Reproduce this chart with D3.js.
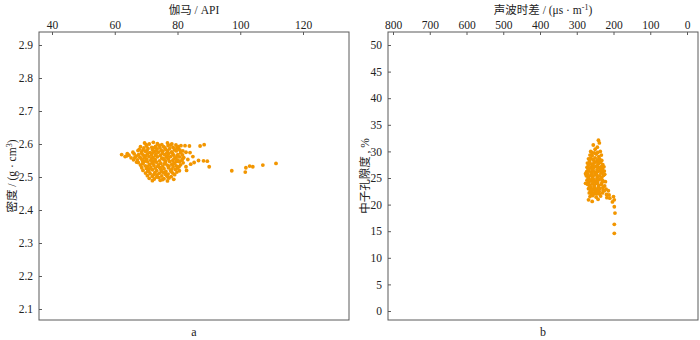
<!DOCTYPE html>
<html><head><meta charset="utf-8">
<script src="https://cdn.jsdelivr.net/npm/d3@7"></script>
<style>body{margin:0;background:#fff}svg{display:block}</style>
</head><body>
<svg id="c" width="700" height="340"></svg>
<script>
// ---- data ----
const gammaTicks = [40, 60, 80, 100, 120];
const densityTicks = [2.1, 2.2, 2.3, 2.4, 2.5, 2.6, 2.7, 2.8, 2.9];
const sonicTicks = [800, 700, 600, 500, 400, 300, 200, 100, 0];
const porosityTicks = [0, 5, 10, 15, 20, 25, 30, 35, 40, 45, 50];
const panelLabels = ["a", "b"];

// panel a: [gamma API, density g/cm3]
const gammaDensity = [
 [62.2,2.568],[63.3,2.562],[64.5,2.566],[65.2,2.558],[64.0,2.571],[66.0,2.552],[66.8,2.563],[65.8,2.575],[67.0,2.545],[67.4,2.580],
 [69.5,2.603],[71.0,2.600],[72.3,2.605],[73.6,2.601],[75.0,2.598],[76.8,2.603],[78.2,2.600],[79.5,2.597],
 [68.2,2.592],[70.2,2.594],[71.8,2.590],[73.0,2.593],[74.4,2.589],[75.6,2.592],[77.0,2.595],[78.6,2.590],[80.3,2.592],[81.1,2.595],
 [67.8,2.584],[69.0,2.582],[70.6,2.586],[72.0,2.583],[73.5,2.585],[74.8,2.581],[76.2,2.584],[77.5,2.586],[79.0,2.582],[80.4,2.585],
 [68.5,2.576],[69.8,2.578],[71.2,2.574],[72.6,2.577],[73.9,2.575],[75.3,2.578],[76.6,2.573],[78.1,2.576],[79.6,2.579],[81.7,2.579],[82.7,2.575],
 [67.6,2.568],[69.1,2.566],[70.4,2.570],[71.7,2.567],[73.1,2.569],[74.5,2.565],[75.9,2.568],[77.2,2.571],[78.8,2.566],[80.1,2.568],[81.6,2.567],
 [68.0,2.560],[69.5,2.558],[70.9,2.562],[72.2,2.559],[73.6,2.561],[75.0,2.557],[76.4,2.560],[77.8,2.562],[79.3,2.558],[80.7,2.561],[82.0,2.559],
 [67.2,2.552],[68.8,2.550],[70.2,2.554],[71.5,2.551],[72.9,2.553],[74.3,2.549],[75.7,2.552],[77.1,2.555],[78.5,2.550],[80.0,2.552],[81.4,2.551],
 [67.5,2.544],[69.0,2.542],[70.5,2.546],[71.9,2.543],[73.3,2.545],[74.7,2.541],[76.1,2.544],[77.5,2.547],[79.0,2.542],[80.6,2.547],[81.8,2.543],
 [68.2,2.536],[69.7,2.534],[71.1,2.538],[72.5,2.535],[73.9,2.537],[75.3,2.533],[76.7,2.536],[78.2,2.539],[79.6,2.534],[81.0,2.537],
 [68.6,2.528],[70.1,2.526],[71.5,2.530],[72.9,2.527],[74.3,2.529],[75.7,2.525],[77.1,2.528],[78.6,2.531],[80.0,2.527],
 [69.0,2.520],[70.5,2.518],[72.0,2.522],[73.4,2.519],[74.8,2.521],[76.3,2.517],[77.8,2.520],[79.3,2.523],[80.6,2.519],
 [69.8,2.512],[71.3,2.510],[72.8,2.514],[74.2,2.511],[75.6,2.513],[77.0,2.509],[78.5,2.512],[79.8,2.515],
 [70.4,2.504],[72.0,2.502],[73.5,2.506],[75.0,2.503],[76.5,2.505],[78.0,2.501],
 [71.0,2.496],[72.6,2.494],[74.1,2.498],[75.7,2.495],[77.3,2.497],[78.8,2.493],
 [72.0,2.489],[74.5,2.490],[76.8,2.488],
 [70.0,2.598],[74.1,2.596],[77.8,2.597],[69.3,2.588],[72.7,2.589],[76.0,2.588],[79.8,2.588],[70.3,2.580],[73.2,2.579],[76.9,2.580],
 [80.8,2.581],[68.6,2.572],[72.0,2.573],[75.1,2.571],[78.4,2.572],[81.0,2.573],[69.9,2.564],[73.0,2.565],[76.8,2.564],[79.9,2.563],
 [68.4,2.556],[71.8,2.557],[75.4,2.556],[78.9,2.555],[81.7,2.556],[69.6,2.548],[72.4,2.548],[76.3,2.549],[79.7,2.547],[68.8,2.540],
 [72.2,2.541],[75.9,2.540],[78.9,2.541],[70.4,2.532],[73.7,2.532],[77.3,2.533],[80.5,2.531],[71.0,2.524],[74.6,2.525],[78.2,2.524],
 [70.9,2.516],[74.9,2.516],[78.0,2.516],[72.5,2.508],[76.2,2.508],[79.1,2.507],[73.4,2.500],[76.9,2.500],[75.2,2.492],[66.4,2.559],
 [66.2,2.570],[63.8,2.564],
 [82.4,2.595],[83.8,2.594],[87.2,2.594],[88.5,2.598],[84.0,2.574],[84.9,2.562],[84.2,2.539],[85.3,2.544],
 [86.7,2.550],[88.3,2.549],[89.5,2.548],[90.1,2.531],[82.7,2.531],[80.6,2.547],[83.3,2.553],[82.9,2.520],
 [97.3,2.519],[101.8,2.528],[101.6,2.515],[103.0,2.533],[104.0,2.531],[107.2,2.536],[111.4,2.541]
];

// panel b: [sonic us/m, neutron porosity %]
const sonicPorosity = [
 [241,32.1],[238.5,31.6],[255,31.2],[244,30.8],[250,30.4],[236,30.0],[259,29.8],[247,29.5],[264,29.3],[240,29.0],
 [268,28.6],[262,28.7],[256,28.5],[250,28.8],[244,28.4],[238,28.6],[232,28.3],
 [271,27.8],[265,27.9],[259,27.6],[253,27.8],[247,28.0],[241,27.7],[235,27.9],[229,27.5],
 [272,27.0],[266,26.8],[260,27.1],[254,26.9],[248,27.2],[242,26.9],[236,27.0],[230,26.7],[226,27.1],
 [273,26.2],[267,26.4],[261,26.1],[255,26.3],[249,26.0],[243,26.2],[237,26.4],[231,26.1],[225,26.3],
 [274,25.4],[268,25.2],[262,25.5],[256,25.3],[250,25.6],[244,25.2],[238,25.4],[232,25.1],[227,25.5],
 [272,24.6],[266,24.8],[260,24.5],[254,24.7],[248,24.4],[242,24.6],[236,24.8],[229,24.5],[222,24.3],
 [270,23.8],[264,23.6],[258,23.9],[252,23.7],[246,24.0],[240,23.6],[233,23.8],[224,23.5],
 [268,23.0],[262,23.2],[256,22.9],[250,23.1],[244,22.8],[237,23.0],[228,22.7],[220,22.9],
 [266,22.2],[259,22.4],[252,22.1],[245,22.3],[238,22.0],[230,22.2],[219,21.9],
 [264,21.5],[256,21.7],[247,21.4],[235,21.6],[218,21.3],[200,21.5],
 [268,20.9],[258,20.6],[242,21.0],[198,20.9],
 [265,28.2],[253,28.2],[241,28.1],[268,27.4],[256,27.4],[244,27.3],[232,27.2],[269,26.6],[257,26.6],[245,26.5],
 [233,26.6],[270,25.8],[258,25.8],[246,25.7],[234,25.9],[224,25.7],[269,25.0],[257,25.0],[245,24.9],[233,25.0],
 [267,24.2],[255,24.2],[243,24.1],[231,24.2],[265,23.4],[253,23.4],[241,23.3],[229,23.2],[263,22.6],[251,22.6],
 [239,22.5],[225,22.6],[260,21.9],[246,22.0],[262,30.0],[252,29.7],[243,29.8],[258,29.2],[233,29.3],[276,25.8],
 [276,24.0],[214,22.6],[212,21.8],
 [210,21.2],[203,20.5],[197.8,19.6],[196,18.4],[197.8,16.3],[197.8,14.6]
];

// ---- drawing ----
const svg = d3.select("#c");
const serif = "'Liberation Serif','Times New Roman','Noto Sans CJK SC',serif";
const frameColor = "#5a5a5a";
const dotColor = "#f29600";

function panel(cfg) {
  const g = svg.append("g");
  const x = d3.scaleLinear().domain(cfg.xDom).range(cfg.xRange);
  const y = d3.scaleLinear().domain(cfg.yDom).range(cfg.yRange);
  const f = cfg.frame;
  g.append("rect").attr("x", f[0]).attr("y", f[1]).attr("width", f[2]-f[0]).attr("height", f[3]-f[1])
    .attr("fill", "none").attr("stroke", frameColor).attr("stroke-width", 1);

  const top = g.append("g").attr("transform", `translate(0,${f[1]})`)
    .call(d3.axisTop(x).tickValues(cfg.xTicks).tickSizeInner(-3).tickSizeOuter(0).tickPadding(3));
  const left = g.append("g").attr("transform", `translate(${f[0]},0)`)
    .call(d3.axisLeft(y).tickValues(cfg.yTicks).tickSizeInner(-3).tickSizeOuter(0).tickPadding(6).tickFormat(cfg.yFmt));
  [top, left].forEach(a => {
    a.select(".domain").remove();
    a.selectAll("line").attr("stroke", frameColor);
    a.selectAll("text").attr("font-family", serif).attr("font-size", 11.5).attr("fill", "#222");
  });

  g.append("g").selectAll("circle").data(cfg.data).join("circle")
    .attr("cx", d => x(d[0])).attr("cy", d => y(d[1])).attr("r", 1.9).attr("fill", dotColor);

  // top title
  const t = g.append("text").attr("x", (f[0]+f[2])/2).attr("y", 14).attr("text-anchor", "middle")
    .attr("font-family", serif).attr("font-size", 11.5).attr("fill", "#222");
  cfg.xTitle(t);
  // y title
  const yt = g.append("text").attr("transform", `translate(${cfg.yTitleX},${(f[1]+f[3])/2}) rotate(-90)`)
    .attr("text-anchor", "middle").attr("font-family", serif).attr("font-size", 11.5).attr("fill", "#222");
  cfg.yTitle(yt);
  // panel label
  g.append("text").attr("x", (f[0]+f[2])/2).attr("y", 336).attr("text-anchor", "middle")
    .attr("font-family", serif).attr("font-size", 12).attr("fill", "#222").text(cfg.label);
}

panel({
  frame: [39, 32, 349, 320],
  xDom: [40, 120], xRange: [52, 303],
  yDom: [2.1, 2.9], yRange: [309, 45],
  xTicks: gammaTicks, yTicks: densityTicks, yFmt: d3.format(".1f"),
  data: gammaDensity, label: panelLabels[0], yTitleX: 16,
  xTitle: t => t.text("伽马 / API"),
  yTitle: t => { t.append("tspan").text("密度 / (g · cm"); t.append("tspan").attr("dy", -4).attr("font-size", 8).text("3"); t.append("tspan").attr("dy", 4).text(")"); }
});
panel({
  frame: [388, 32, 698, 320],
  xDom: [800, 0], xRange: [393, 687],
  yDom: [0, 50], yRange: [311, 45],
  xTicks: sonicTicks, yTicks: porosityTicks, yFmt: d3.format("d"),
  data: sonicPorosity, label: panelLabels[1], yTitleX: 369,
  xTitle: t => { t.append("tspan").text("声波时差 / (μs · m"); t.append("tspan").attr("dy", -4).attr("font-size", 8).text("-1"); t.append("tspan").attr("dy", 4).text(")"); },
  yTitle: t => t.text("中子孔隙度 , %")
});
</script>
</body></html>
